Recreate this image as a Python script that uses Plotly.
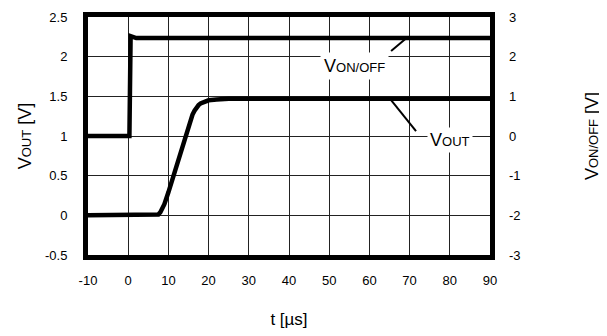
import plotly.graph_objects as go

# time axis and traces
t_out = [-10, 7, 7.5, 8, 8.5, 9, 10, 11, 12, 13, 14, 15, 16, 16.5, 17, 17.5, 18, 19, 20, 22, 25, 90]
v_out = [0, 0, 0.01, 0.04, 0.08, 0.14, 0.29, 0.46, 0.63, 0.8, 0.97, 1.13, 1.27, 1.32, 1.36, 1.39, 1.41, 1.43, 1.45, 1.46, 1.47, 1.47]

t_onoff = [-10, 0.3, 0.6, 2, 90]
v_onoff = [0, 0, 2.52, 2.47, 2.47]

x_ticks = [-10, 0, 10, 20, 30, 40, 50, 60, 70, 80, 90]
y1_ticks = [-0.5, 0, 0.5, 1, 1.5, 2, 2.5]
y2_ticks = [-3, -2, -1, 0, 1, 2, 3]

FONT = 'Liberation Sans, Arial, sans-serif'

fig = go.Figure()
fig.add_trace(go.Scatter(x=t_out, y=v_out, mode='lines', line=dict(color='black', width=4.5),
                         yaxis='y', showlegend=False))
fig.add_trace(go.Scatter(x=t_onoff, y=v_onoff, mode='lines', line=dict(color='black', width=4.5),
                         yaxis='y2', showlegend=False))

# page body adds an 8px margin, so the figure is 8px smaller and shifted
fig.update_layout(
    width=599, height=328,
    margin=dict(l=80, r=117, t=9, b=81),
    paper_bgcolor='white', plot_bgcolor='white',
    font=dict(family=FONT, size=13, color='black'),
    xaxis=dict(range=[-10, 90], tickvals=x_ticks, ticktext=[str(v) for v in x_ticks],
               showgrid=True, gridcolor='#222', gridwidth=1, automargin=False,
               zeroline=False, showline=True, linecolor='black', linewidth=5, mirror=True,
               ticks='', ticklabelstandoff=9,
               title=dict(text='t [µs]', font=dict(size=17), standoff=28)),
    yaxis=dict(range=[-0.5, 2.5], tickvals=y1_ticks, ticktext=[f'{v:g}' for v in y1_ticks],
               showgrid=True, gridcolor='#222', automargin=False,
               gridwidth=1, zeroline=False, showline=True, linecolor='black', linewidth=5, mirror=True,
               ticks='', ticklabelstandoff=13,
               title=dict(text="V<span style='font-size:13px'>OUT</span> [V]", font=dict(size=18), standoff=10)),
    yaxis2=dict(range=[-3, 3], tickvals=y2_ticks, ticktext=[str(v) for v in y2_ticks],
                overlaying='y', side='right', showgrid=False, automargin=False,
                zeroline=False, ticks='', ticklabelstandoff=18,
                title=dict(text="V<span style='font-size:13px'>ON/OFF</span> [V]", font=dict(size=18), standoff=65)),
)

# trace labels with leader lines
fig.add_annotation(x=56.4, y=1.88, xref='x', yref='y', text="V<span style='font-size:13px'>ON/OFF</span>",
                   showarrow=False, font=dict(size=18), bgcolor='white', borderpad=3)
fig.add_annotation(x=80, y=0.95, xref='x', yref='y', text="V<span style='font-size:13px'>OUT</span>",
                   showarrow=False, font=dict(size=18), bgcolor='white', borderpad=2)
fig.add_shape(type='line', x0=65.4, y0=2.07, x1=69.6, y1=2.25, xref='x', yref='y', line=dict(color='black', width=2))
fig.add_shape(type='line', x0=65.1, y0=1.47, x1=71.6, y1=1.06, xref='x', yref='y', line=dict(color='black', width=2))

fig.write_html("out.html")
